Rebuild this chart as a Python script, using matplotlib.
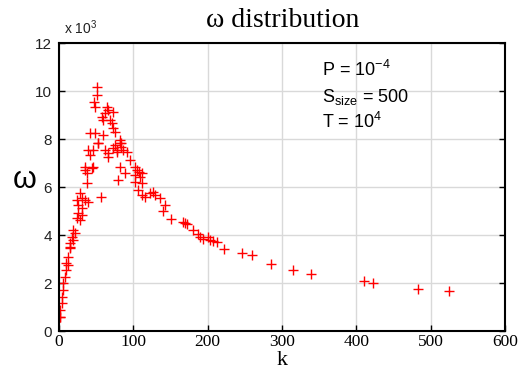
import numpy as np
import matplotlib
matplotlib.use('Agg')
import matplotlib.pyplot as plt

# k values and omega (x 10^3)
list_k = [1.3, 1.3, 1.3, 3.6, 3.6, 6, 6, 8, 10, 10, 12.5, 12.5, 15, 15, 15,
          17, 19, 19, 21.5, 24, 24, 26, 26, 28, 28, 30.5, 30.5, 30.5, 35, 35,
          35, 37, 37, 39.5, 39.5, 42, 42, 44, 46, 46, 47, 48.4, 48.4, 51.5, 51.5,
          53, 53, 57, 57.4, 59.6, 59.6, 62, 62, 64, 66, 66, 66, 68.6, 71, 73,
          73, 73, 75, 75, 77.6, 78, 80, 82, 82, 82, 84, 84, 86, 89, 91, 95.5,
          102, 102, 102, 104.5, 106.7, 107, 109, 111, 111, 111, 115.7, 122, 127,
          129, 136, 140, 143, 150.7, 167, 169.5, 172, 180, 187, 190, 194, 201,
          203, 207.6, 212, 222, 246.6, 259, 285, 315, 338.6, 410, 422, 483, 525]
list_omega = [0.57, 0.6, 0.88, 1.15, 1.43, 1.71, 1.99, 2.26, 2.54, 2.83, 2.75,
              3.1, 3.44, 3.51, 3.65, 3.93, 3.79, 4.21, 4.07, 4.69, 5.46, 4.9, 5.25,
              4.63, 5.74, 4.83, 5.11, 5.53, 5.46, 6.71, 6.82, 6.15, 6.57, 5.39,
              7.54, 7.33, 8.24, 6.78, 6.82, 7.54, 9.55, 9.35, 8.24, 10.18, 9.83,
              7.82, 7.82, 5.6, 8.93, 8.17, 8.79, 9.07, 7.54, 9.35, 9.21, 7.26, 7.4,
              8.79, 8.65, 9.14, 8.44, 7.61, 8.3, 7.75, 7.47, 7.54, 6.29, 7.96, 7.82,
              6.85, 7.82, 7.68, 7.54, 6.57, 7.47, 7.13, 6.85, 6.5, 6.22, 6.71, 5.88,
              6.64, 6.43, 6.57, 6.15, 5.67, 5.6, 5.74, 5.81, 5.67, 5.53, 5.01, 5.25,
              4.65, 4.55, 4.49, 4.46, 4.21, 4.04, 3.93, 3.82, 3.9, 3.79, 3.76, 3.72,
              3.43, 3.24, 3.15, 2.79, 2.54, 2.38, 2.10, 1.99, 1.76, 1.68]

plt.rcParams['mathtext.fontset'] = 'custom'
plt.rcParams['mathtext.rm'] = 'Liberation Sans'

fig = plt.figure(figsize=(5.25, 3.71), dpi=100)
ax = fig.add_axes([0.1124, 0.1078, 0.8496, 0.7762])

ax.plot(list_k, list_omega, '+', color='#ff0000', markersize=7.5, markeredgewidth=1.0)

ax.set_xlim(0, 600)
ax.set_ylim(0, 12)
ax.set_xticks(np.arange(0, 601, 100))
ax.set_yticks(np.arange(0, 13, 2))

#grid and box
ax.grid(True, color='#d9d9d9', linewidth=1)
ax.set_axisbelow(True)
for sp in ax.spines.values():
    sp.set_linewidth(1.5)
ax.tick_params(direction='in', top=False, right=True, length=4, width=1)
ax.tick_params(axis='y', pad=5)
ax.tick_params(axis='x', pad=2)

for lb in ax.get_xticklabels():
    lb.set_fontfamily('Liberation Serif')
    lb.set_fontsize(12.5)
for lb in ax.get_yticklabels():
    lb.set_fontfamily('Liberation Sans')
    lb.set_fontsize(11)
    lb.set_color('#222222')

ax.text(0.012, 1.02, r'x 10$^3$', transform=ax.transAxes, fontsize=10,
        family='Liberation Sans', color='#222222', va='bottom', ha='left')

fig.text(0.538, 0.944, 'ω distribution', family='Liberation Serif', fontsize=20,
         ha='center', va='center')
#x label placed by hand so it stays inside the figure
fig.text(0.537, 0.004, 'k', family='Liberation Serif', fontsize=16,
         ha='center', va='bottom')
ax.set_ylabel('ω', family='Liberation Sans', fontsize=22, rotation=0, va='center')
ax.yaxis.set_label_coords(-0.078, 0.525)

ax.text(0.59, 0.906, r'P = 10$^{\mathrm{-4}}$', transform=ax.transAxes,
        fontsize=13, family='Liberation Sans', va='center')
ax.text(0.59, 0.8125, r'S$_{\mathrm{size}}$ = 500', transform=ax.transAxes,
        fontsize=13, family='Liberation Sans', va='center')
ax.text(0.59, 0.726, r'T = 10$^{\mathrm{4}}$', transform=ax.transAxes,
        fontsize=13, family='Liberation Sans', va='center')

fig.savefig('out.png', dpi=100)
